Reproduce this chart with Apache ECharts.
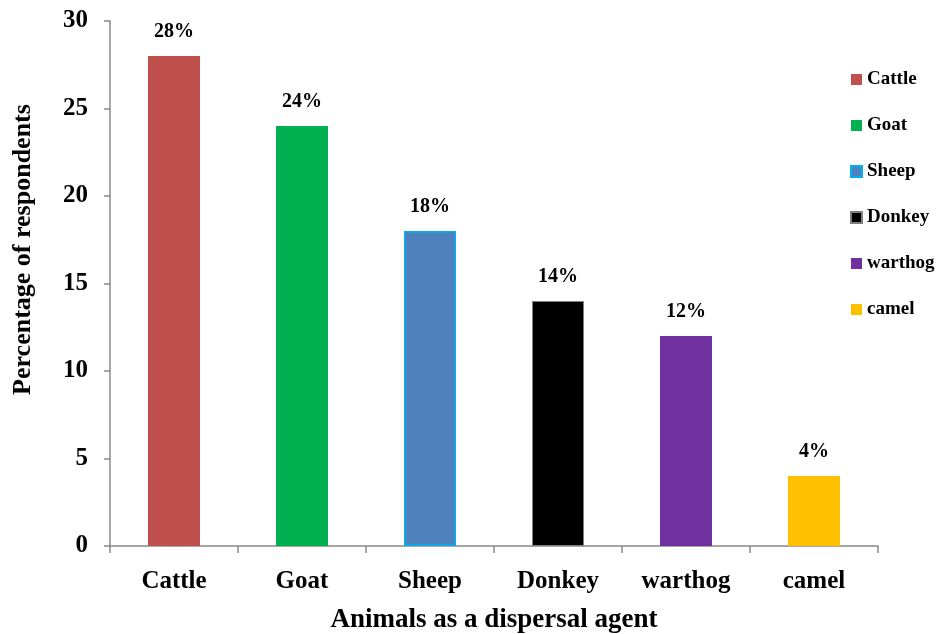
<!DOCTYPE html>
<html>
<head>
<meta charset="utf-8">
<script src="https://cdn.jsdelivr.net/npm/echarts@6/dist/echarts.min.js"></script>
<style>
  html, body { margin: 0; padding: 0; background: #fff; }
  #chart { width: 947px; height: 634px; }
</style>
</head>
<body>
<div id="chart"></div>
<script>
// animals and share of respondents (%)
const categories = ['Cattle', 'Goat', 'Sheep', 'Donkey', 'warthog', 'camel'];
const values = [28, 24, 18, 14, 12, 4];
const colors = ['#C0504D', '#00B050', '#4F81BD', '#000000', '#7030A0', '#FFC000'];
const borders = ['#C0504D', '#00B050', '#00B0F0', '#7F7F7F', '#7030A0', '#FFC000'];
const yTicks = [0, 5, 10, 15, 20, 25, 30];

const font = 'Liberation Serif';
const chart = echarts.init(document.getElementById('chart'));

// one series per animal so the legend lists them; stack keeps bars centred
const series = categories.map(function (name, i) {
    const data = categories.map(function (c, j) { return j === i ? values[i] : '-'; });
    return {
        name: name,
        type: 'bar',
        stack: 'all',
        barWidth: 52,
        data: data,
        itemStyle: { color: colors[i], borderColor: borders[i], borderWidth: i === 2 ? 1.5 : (i === 3 ? 1 : 0) },
        label: {
            show: true,
            position: 'top',
            distance: 14,
            formatter: function (p) { return p.value + '%'; },
            fontFamily: font,
            fontWeight: 'bold',
            fontSize: 20,
            color: '#000'
        }
    };
});

const option = {
    animation: false,
    backgroundColor: '#fff',
    grid: { left: 110, right: 69, top: 21, bottom: 88, outerBoundsMode: 'none', containLabel: false },
    legend: {
        orient: 'vertical',
        left: 845,
        top: 65,
        itemWidth: 11,
        itemHeight: 11,
        itemGap: 27,
        icon: 'rect',
        textStyle: { fontFamily: font, fontWeight: 'bold', fontSize: 19, color: '#000' },
        data: categories
    },
    xAxis: {
        type: 'category',
        data: categories,
        name: 'Animals as a dispersal agent',
        nameLocation: 'middle',
        nameGap: 61,
        nameTextStyle: { fontFamily: font, fontWeight: 'bold', fontSize: 27, color: '#000' },
        axisLine: { lineStyle: { color: '#888', width: 1.5 } },
        axisTick: { show: true, length: 7, lineStyle: { color: '#888', width: 1.5 } },
        axisLabel: { margin: 23, fontFamily: font, fontWeight: 'bold', fontSize: 25, color: '#000' }
    },
    yAxis: {
        type: 'value',
        min: yTicks[0],
        max: yTicks[yTicks.length - 1],
        interval: 5,
        name: 'Percentage of respondents',
        nameLocation: 'middle',
        nameGap: 74,
        nameTextStyle: { fontFamily: font, fontWeight: 'bold', fontSize: 26, color: '#000', padding: [0, 0, 0, 68] },
        splitLine: { show: false },
        axisLine: { show: true, lineStyle: { color: '#888', width: 1.5 } },
        axisTick: { show: true, length: 6, lineStyle: { color: '#888', width: 1.5 } },
        axisLabel: { margin: 22, fontFamily: font, fontWeight: 'bold', fontSize: 25, color: '#000' }
    },
    series: series
};

chart.setOption(option);
</script>
</body>
</html>
